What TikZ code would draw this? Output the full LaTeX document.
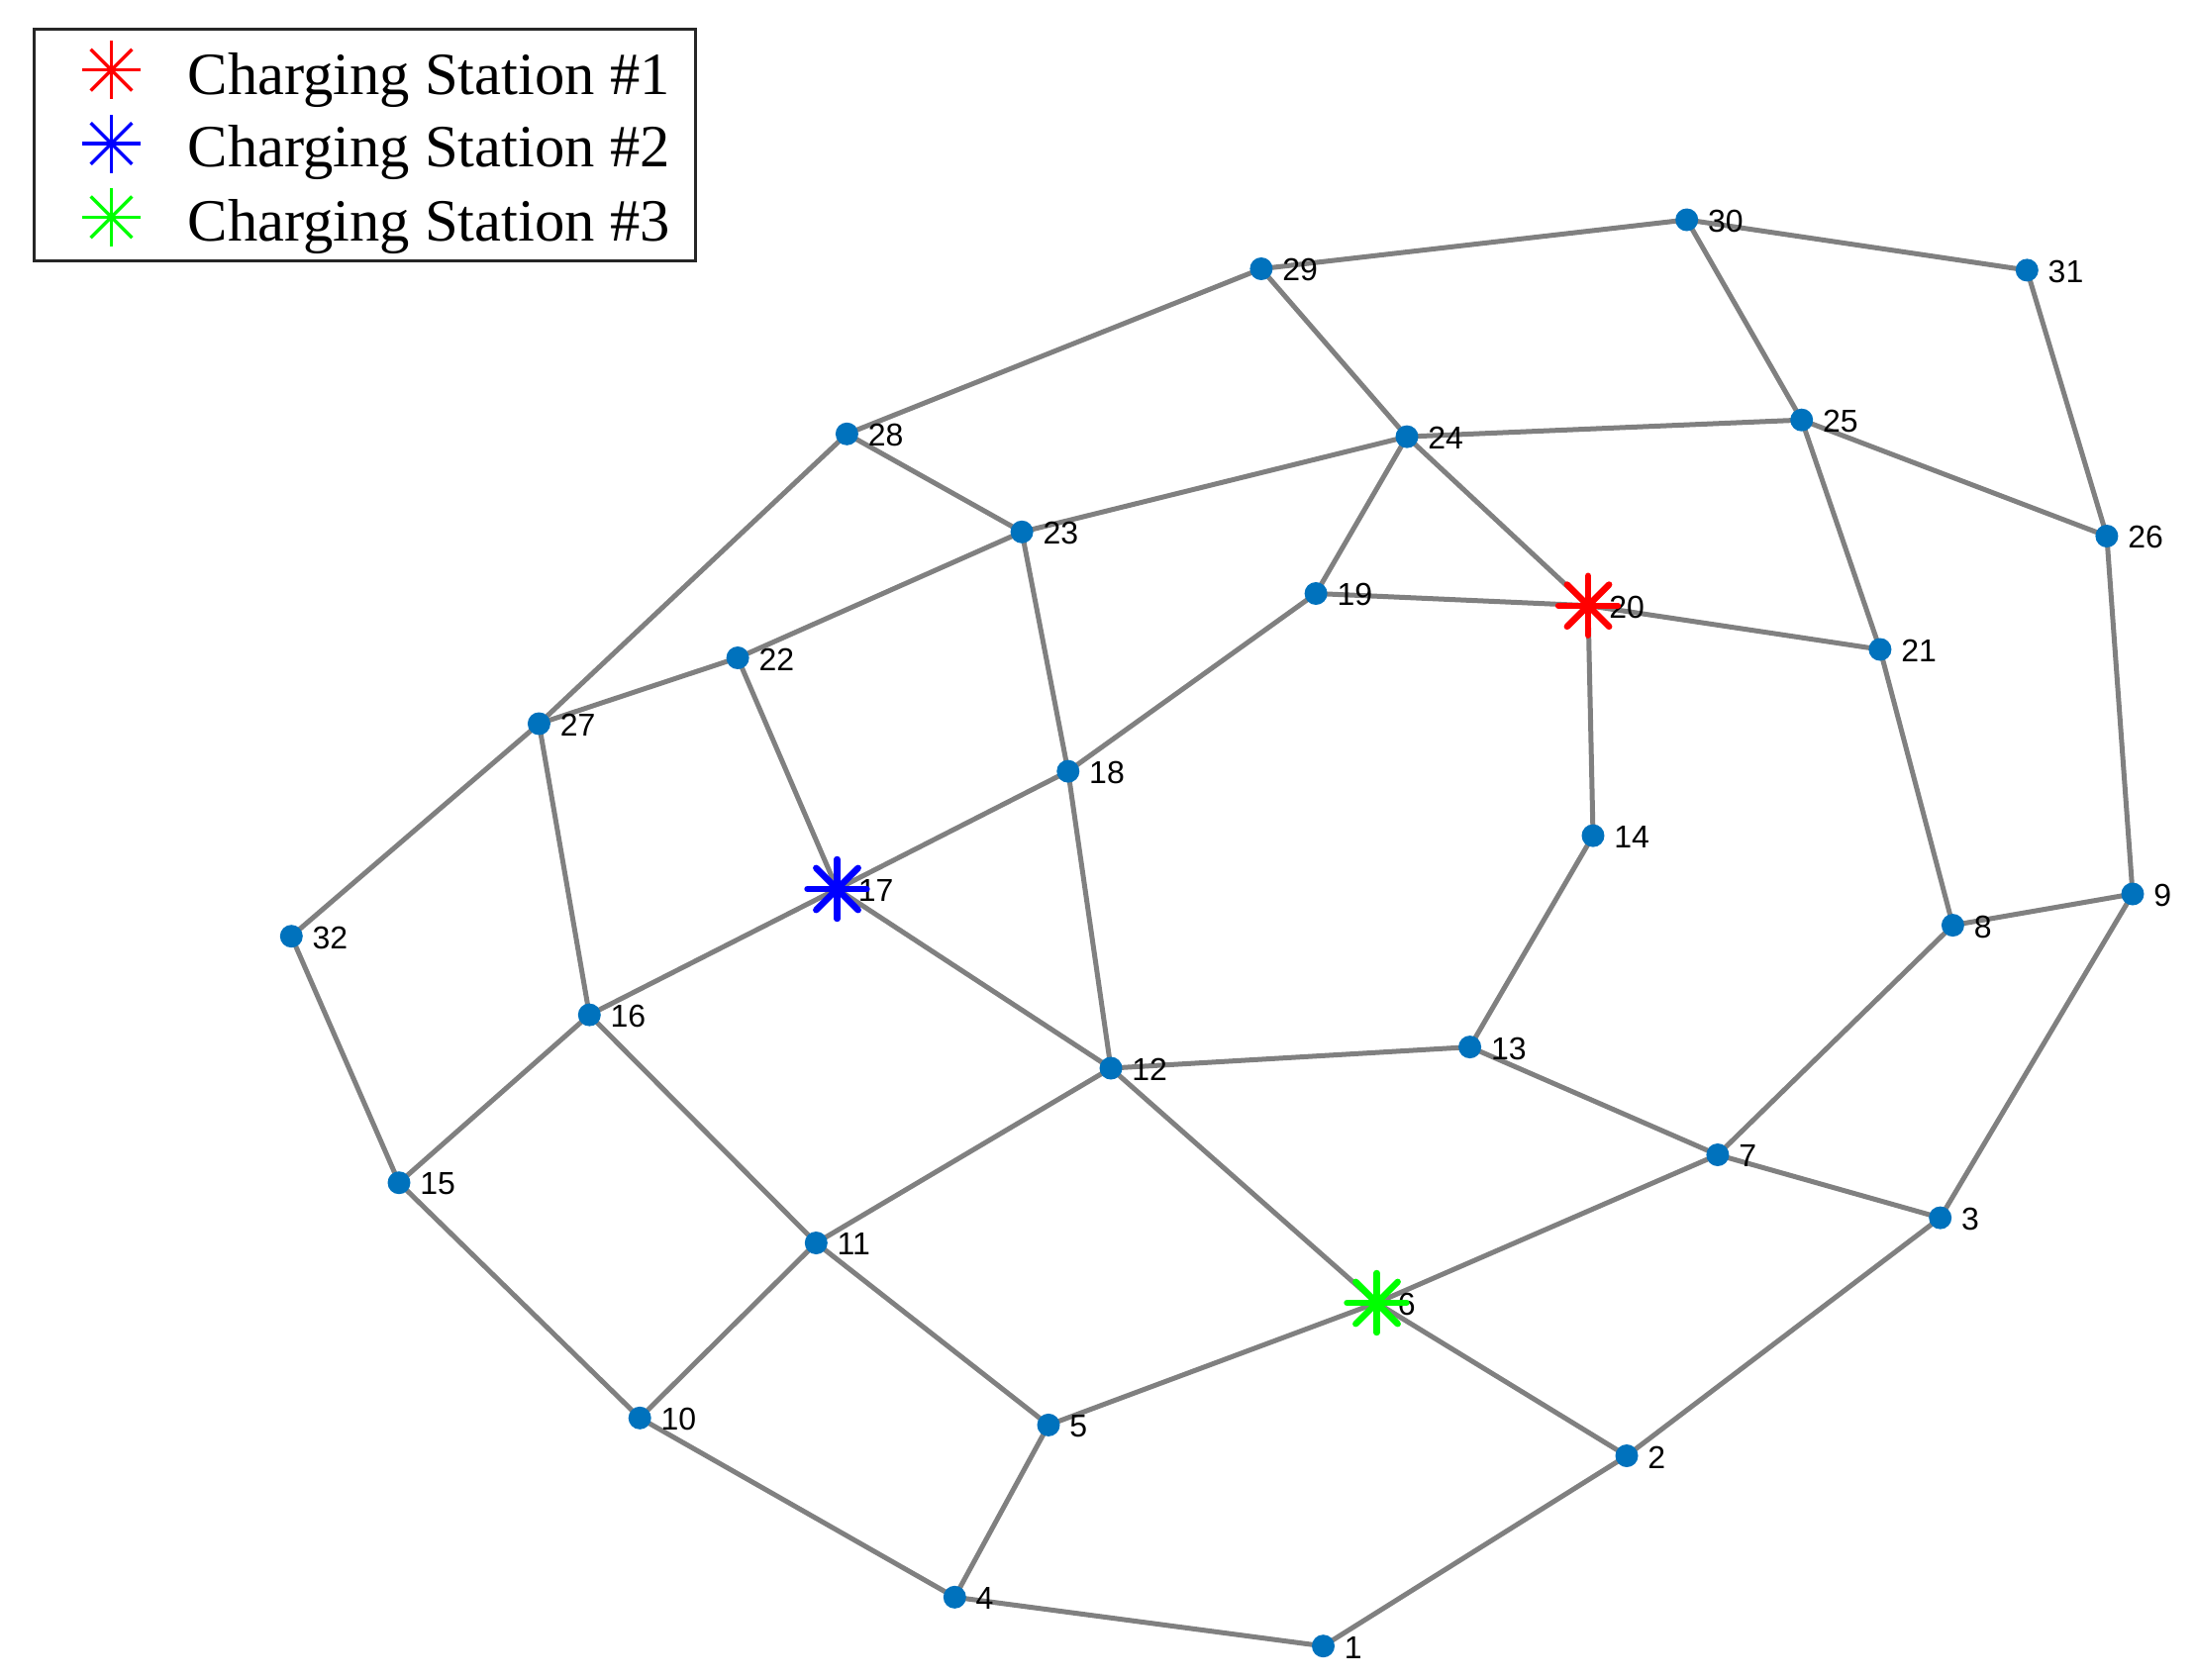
\documentclass[tikz,border=0pt]{standalone}
\usepackage{fontspec}
\setmainfont{Liberation Serif}
\setsansfont{Liberation Sans}
\usetikzlibrary{backgrounds}
\definecolor{edgegray}{RGB}{128,128,128}
\definecolor{dotblue}{RGB}{0,114,189}
\definecolor{boxgray}{RGB}{38,38,38}
\definecolor{stargreen}{RGB}{0,255,0}
\tikzset{
  edge/.style={draw=edgegray, line width=2.5pt},
  vdot/.style={circle, fill=dotblue, inner sep=0pt, minimum size=11.5pt},
  lbl/.style={font=\sffamily\fontsize{16}{16}\selectfont, anchor=west, inner sep=0pt, xshift=10.5pt, yshift=-0.7pt},
  legtext/.style={font=\fontsize{30.3}{30.3}\selectfont, anchor=base west, inner sep=0pt},
  pics/cstar/.style={code={\foreach \a in {0,45,...,315} \draw[line width=3.2pt, line cap=round] (0,0) -- (\a:30);}},
  pics/legstar/.style={code={\foreach \a in {0,45,...,315} \draw[line width=1.65pt] (0,0) -- (\a:29.5);}}
}
\begin{document}
\begin{tikzpicture}[x=0.5pt,y=-0.5pt]
\useasboundingbox (0,0) rectangle (2217,1697);
% vertices
\foreach \n/\px/\py in {1/1336.5/1662.7, 2/1643/1470.5, 3/1959.7/1230.1, 4/964.3/1613.3, 5/1059/1439.4,
  7/1734.9/1166.5, 8/1972.4/934.6, 9/2154/903, 10/646.2/1432.3, 11/824.3/1255.5, 12/1122/1079,
  13/1484.6/1057.6, 14/1609/844.1, 15/403/1194.7, 16/595.3/1025.1, 18/1078.8/779.1, 19/1329.1/599.5,
  21/1898.9/656, 22/745.1/664.5, 23/1032.1/537.3, 24/1421/441.1, 25/1819.7/424.2, 26/2127.9/541.5,
  27/544.4/731, 28/855.4/438.3, 29/1273.9/271.5, 30/1703.7/222, 31/2047.3/272.9, 32/294.3/945.7}
  {\node[vdot] (n\n) at (\px,\py) {};}
\coordinate (n6) at (1390.5,1316);
\coordinate (n17) at (845.5,898);
\coordinate (n20) at (1604,611.7);
% edges
\begin{scope}[on background layer]
\foreach \a/\b in {1/4,1/2,2/3,2/6,3/7,3/9,4/5,4/10,5/6,5/11,6/7,6/12,7/8,7/13,8/9,8/21,9/26,
  10/11,10/15,11/12,11/16,12/13,12/17,12/18,13/14,14/20,15/16,15/32,16/17,16/27,17/18,17/22,
  18/19,18/23,19/20,19/24,20/21,20/24,21/25,22/23,22/27,23/24,23/28,24/25,24/29,25/26,25/30,
  26/31,27/28,27/32,28/29,29/30,30/31}
  {\draw[edge] (n\a.center) -- (n\b.center);}
\end{scope}
% labels
\foreach \n in {1,2,3,4,5,6,7,8,9,10,11,12,13,14,15,16,17,18,19,20,21,22,23,24,25,26,27,28,29,30,31,32}
  {\node[lbl] (l\n) at (n\n) {\n};}
% charging stations
\pic[red] at (n20) {cstar};
\pic[blue] at (n17) {cstar};
\pic[stargreen] at (n6) {cstar};
% legend
\node[draw=boxgray, fill=white, line width=1.5pt, inner sep=0pt, minimum width=333.8pt, minimum height=116.85pt, anchor=north west] (legend) at (33.1,28.3) {};
\coordinate (ls1) at (112.5,70.7);
\coordinate (ls2) at (112.5,145);
\coordinate (ls3) at (112.5,219.3);
\pic[red] at (ls1) {legstar};
\pic[blue] at (ls2) {legstar};
\pic[stargreen] at (ls3) {legstar};
\node[legtext] (t1) at (189.2,95) {Charging Station \#1};
\node[legtext] (t2) at (189.2,168.3) {Charging Station \#2};
\node[legtext] (t3) at (189.2,243.3) {Charging Station \#3};
\end{tikzpicture}
\end{document}
